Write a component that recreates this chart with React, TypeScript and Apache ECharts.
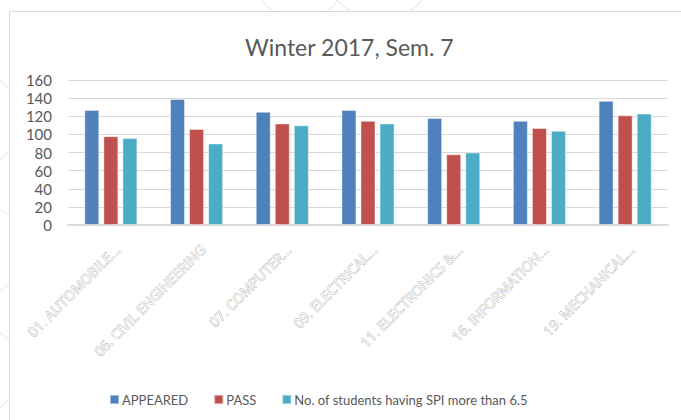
import React, { useEffect, useRef } from "react";
import * as echarts from "echarts";

const categories = [
  "01. AUTOMOBILE...",
  "06. CIVIL ENGINEERING",
  "07. COMPUTER...",
  "09. ELECTRICAL...",
  "11. ELECTRONICS &...",
  "16. INFORMATION...",
  "19. MECHANICAL...",
];
const appeared = [127, 139, 125, 127, 118, 115, 137];
const pass = [98, 106, 112, 115, 78, 107, 121];
const spiAbove = [96, 90, 110, 112, 80, 104, 123];
const seriesNames = ["APPEARED", "PASS", "No. of students having SPI more than 6.5"];
const colors = ["#4f81bd", "#c0504d", "#4bacc6"];

const FONT = "Lato, 'Open Sans', sans-serif";

export default function App() {
  const ref = useRef<HTMLDivElement>(null);
  useEffect(() => {
    if (!ref.current) return;
    const chart = echarts.init(ref.current, null, { renderer: "svg" });
    const faint = { fill: "none", stroke: "#e8eef4", lineWidth: 1.2 };
    chart.setOption({
      animation: false,
      backgroundColor: "#ffffff",
      textStyle: { fontFamily: FONT },
      graphic: [
        { type: "circle", z: -10, silent: true, shape: { cx: -30, cy: 120, r: 50 }, style: faint },
        { type: "circle", z: -10, silent: true, shape: { cx: -20, cy: 250, r: 45 }, style: faint },
        { type: "circle", z: -10, silent: true, shape: { cx: -25, cy: 370, r: 45 }, style: faint },
        { type: "circle", z: -10, silent: true, shape: { cx: 300, cy: -25, r: 45 }, style: faint },
        { type: "circle", z: -10, silent: true, shape: { cx: 380, cy: -35, r: 55 }, style: faint },
        {
          type: "rect",
          z: -5,
          silent: true,
          shape: { x: 9.5, y: 11.5, width: 700, height: 440 },
          style: { fill: "#ffffff", stroke: "#d9d9d9", lineWidth: 1 },
        },
      ],
      title: {
        text: "Winter 2017, Sem. 7",
        left: 240,
        top: 30,
        textStyle: { fontFamily: FONT, fontSize: 23, fontWeight: "normal", color: "#595959" },
      },
      legend: {
        left: 104,
        top: 388,
        itemWidth: 9,
        itemHeight: 9,
        itemGap: 25,
        icon: "rect",
        textStyle: { fontFamily: FONT, fontSize: 13, color: "#595959", padding: [0, 0, 0, -2] },
        data: seriesNames,
      },
      grid: { left: 68, right: 13, top: 80, bottom: 195, containLabel: false },
      xAxis: {
        type: "category",
        data: categories,
        axisLine: { lineStyle: { color: "#d9d9d9", width: 2 } },
        axisTick: { show: false },
        axisLabel: {
          interval: 0,
          rotate: 45,
          margin: 10,
          verticalAlign: "top",
          padding: [6, 4, 0, 0],
          fontFamily: "'Open Sans', sans-serif",
          fontSize: 14,
          color: "#fbfbfb",
          textBorderColor: "#a0a0a0",
          textBorderWidth: 0.7,
        },
      },
      yAxis: {
        type: "value",
        min: 0,
        max: 160,
        interval: 20,
        axisLine: { show: false },
        axisTick: { show: false },
        splitLine: { lineStyle: { color: "#d9d9d9", width: 1 } },
        axisLabel: { fontFamily: FONT, fontSize: 15, color: "#595959", margin: 16 },
      },
      series: [appeared, pass, spiAbove].map((d, i) => ({
        name: seriesNames[i],
        type: "bar",
        data: d,
        barWidth: 15,
        barGap: "27%",
        itemStyle: { color: colors[i], borderColor: "rgba(255,255,255,0.45)", borderWidth: 1 },
      })),
    });
    return () => chart.dispose();
  }, []);
  return <div ref={ref} style={{ width: 681, height: 420, position: "absolute", left: 0, top: 0 }} />;
}
